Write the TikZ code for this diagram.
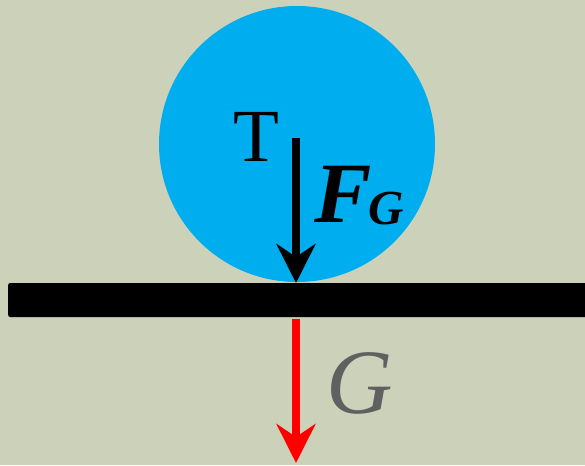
\documentclass[tikz,border=0pt]{standalone}
\usepackage{fontspec}
\setmainfont{Liberation Serif}
\usetikzlibrary{arrows.meta, positioning}
\definecolor{bgcol}{RGB}{204,209,185}
\definecolor{ballblue}{RGB}{0,174,239}
\definecolor{labgray}{RGB}{96,96,96}

\begin{document}
\begin{tikzpicture}[
			x=1pt, y=-1pt,
			ball/.style={
				circle, fill=ballblue, draw=none, inner sep=0pt,
				minimum size=276pt
			},
			floor/.style={
				rectangle, fill=black, draw=none, rounded corners=2pt,
				inner sep=0pt, minimum width=590pt, minimum height=34pt
			},
			arr/.style={-{Stealth[length=39pt, width=39pt, inset=13pt]}, line width=7.5pt},
			lab/.style={inner sep=0pt, font=\fontsize{75}{75}\selectfont},
			]
			
			% ── background ───────────────────────────────────────────────────
			\fill[bgcol] (0,0) rectangle (585,465);
			\useasboundingbox (0,0) rectangle (585,465);
			
			% ── ball and floor ───────────────────────────────────────────────
			\node[ball] (kugel) at (297,144) {};
			\node[floor, anchor=west] (boden) at (8,300) {};
			
			% ── force on the ball ────────────────────────────────────────────
			\coordinate (fgtop) at (296,138);
			\coordinate (fgtip) at (296,283);
			\draw[arr, black] (fgtop) -- (fgtip);
			
			\node[lab] (tlab) at (256,137) {T};
			\node[lab, font=\fontsize{86}{86}\selectfont\bfseries\itshape] (fglab) at (343,194) {F};
			\node[lab, font=\fontsize{49}{49}\selectfont\bfseries\itshape] (fgsub) at (386,209) {G};
			
			% ── weight below the floor ───────────────────────────────────────
			\coordinate (gtop) at (296,319);
			\coordinate (gtip) at (296,463);
			\draw[arr, red] (gtop) -- (gtip);
			
			\node[lab, text=labgray, font=\fontsize{92}{92}\selectfont\itshape] (glab) at (360,383) {G};
			
		\end{tikzpicture}
\end{document}
